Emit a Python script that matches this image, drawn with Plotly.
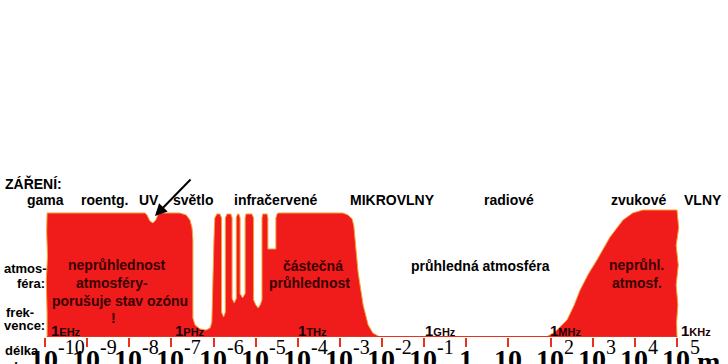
import plotly.graph_objects as go

# ---------------- data (x = log10 of wavelength in metres, y = relative atmospheric opacity) -------------
block_wl = [-9.95, -9.95, -9.97, -9.94, -9.96, -9.95, -7.63, -7.58, -7.51, -7.44, -7.37, -7.32, -7.25,
            -6.80, -6.65, -6.56, -6.51, -6.49, -6.49, -6.44, -6.32, -6.18, -6.08, -6.04,
            -5.99, -5.97, -5.92, -5.85, -5.81,
            -5.81, -5.76, -5.72,
            -5.72, -5.68, -5.59, -5.56,
            -5.56, -5.51, -5.46,
            -5.46, -5.43, -5.40, -5.37,
            -5.37, -5.31, -5.25,
            -5.25, -5.23, -5.09, -5.05,
            -5.05, -5.00, -4.94, -4.89, -4.85,
            -4.85, -4.83, -4.73, -4.71,
            -4.71, -4.52,
            -4.52, -4.49, -4.47, -2.93, -2.81, -2.71, -2.67, -2.57, -2.45, -2.33, -2.22, -2.05]
block_op = [0, 0.2, 0.45, 0.65, 0.85, 1.0, 1.0, 0.984, 0.935, 0.919, 0.944, 0.984, 1.0,
            1.0, 0.984, 0.944, 0.879, 0.782, 0.153, 0.097, 0.065, 0.056, 0.073, 0.121,
            0.782, 0.96, 0.992, 0.992, 0.96,
            0.20, 0.161, 0.20,
            0.96, 0.992, 0.992, 0.96,
            0.31, 0.274, 0.31,
            0.96, 0.992, 0.992, 0.96,
            0.35, 0.315, 0.35,
            0.96, 0.992, 0.992, 0.96,
            0.30, 0.26, 0.234, 0.26, 0.30,
            0.96, 0.992, 0.992, 0.96,
            0.71, 0.71,
            0.96, 0.992, 1.0, 1.0, 0.984, 0.952, 0.895, 0.524, 0.258, 0.097, 0.032, 0]

hump_wl = [1.90, 2.10, 2.39, 2.55, 2.70, 2.90, 3.10, 3.41, 3.72, 3.95, 4.19, 5.00,
           5.04, 4.98, 5.03, 4.98, 5.02, 4.99, 5.00]
hump_op = [0, 0.04, 0.137, 0.25, 0.379, 0.51, 0.621, 0.806, 0.944, 1.0, 1.024, 1.024,
           0.88, 0.74, 0.58, 0.42, 0.26, 0.12, 0]

tick_exps = list(range(-10, 6))
tick_base = ["10"] * 10 + ["1", "10"] + ["10"] * 4
tick_sup = ["-10", "-9", "-8", "-7", "-6", "-5", "-4", "-3", "-2", "-1", "", "", "2", "3", "4", "5"]

freq_units = ["EHz", "PHz", "THz", "GHz", "MHz", "KHz"]
freq_wl = [-9.81, -6.87, -3.95, -0.93, 2.03, 5.14]

band_names = ["gama", "roentg.", "UV", "světlo", "infračervené", "MIKROVLNY", "radiové", "zvukové", "VLNY"]
band_px = [45, 104, 149, 193, 275, 392, 509, 638, 703]

W, H, BASE = 728, 364, 337
RED = "#f01c1c"
EDGE = "#f5a030"
DARK = "#3a0000"


def px(x):
    return x / W


def py(y):
    return (BASE - y) / BASE


fig = go.Figure()
fig.add_trace(go.Scatter(x=block_wl, y=block_op, fill="toself", fillcolor=RED, mode="lines",
                         line=dict(color=EDGE, width=1), hoverinfo="skip", showlegend=False))
fig.add_trace(go.Scatter(x=hump_wl, y=hump_op, fill="toself", fillcolor=RED, mode="lines",
                         line=dict(color=EDGE, width=1), hoverinfo="skip", showlegend=False))
fig.add_trace(go.Scatter(x=freq_wl, y=[-0.032] * len(freq_wl), mode="markers", cliponaxis=False,
                         marker=dict(color="black", size=4), hoverinfo="skip", showlegend=False))

fig.add_shape(type="line", x0=-9.95, x1=5.0, y0=0, y1=0, xref="x", yref="y",
              line=dict(color="#e8321e", width=2))

ann = []


def label(text, x, y, size=14, color="black", xanchor="center", bold=True, family="Liberation Sans"):
    ann.append(dict(text=f"<b>{text}</b>" if bold else text, x=px(x), y=py(y), xref="paper", yref="paper",
                    xanchor=xanchor, yanchor="middle", showarrow=False,
                    font=dict(family=family, size=size, color=color)))


label("ZÁŘENÍ:", 3, 183, xanchor="left")
for name, x in zip(band_names, band_px):
    label(name, x, 200)

label("atmos-", 2, 268, size=13, xanchor="left")
label("féra:", 15, 283, size=13, xanchor="left")
label("frek-", 4, 312, size=13, xanchor="left")
label("vence:", 2, 325, size=13, xanchor="left")
label("délka", 3, 350, size=13, xanchor="left")
label("vlny:", 5, 366, size=13, xanchor="left")

label("neprůhlednost", 117, 265, color=DARK)
label("atmosféry-", 112, 283, color=DARK)
label("porušuje stav ozónu", 120, 301, color=DARK)
label("!", 113, 318, color=DARK)
label("částečná", 313, 266, color=DARK)
label("průhlednost", 309, 283, color=DARK)
label("průhledná atmosféra", 480, 266)
label("neprůhl.", 636, 265, color=DARK)
label("atmosf.", 637, 283, color=DARK)

for unit, x in zip(freq_units, freq_wl):
    ann.append(dict(text=f"<b>1<span style='font-size:11px'>{unit}</span></b>", x=x, y=py(330),
                    xref="x", yref="paper", xanchor="left", yanchor="middle", xshift=-4, showarrow=False,
                    font=dict(family="Liberation Sans", size=15, color="#1a0000")))

for e, b, s in zip(tick_exps, tick_base, tick_sup):
    ann.append(dict(text=f"<b>{b}</b>", x=e, y=py(342), xref="x", yref="paper", xanchor="center",
                    yanchor="top", xshift=-1 if s else 0, showarrow=False,
                    font=dict(family="Liberation Serif", size=28, color="black")))
    if s:
        ann.append(dict(text=s, x=e, y=py(334), xref="x", yref="paper", xanchor="left", yanchor="top",
                        xshift=11, showarrow=False,
                        font=dict(family="Liberation Serif", size=20, color="black")))
ann.append(dict(text="<b>m</b>", x=5, y=py(344), xref="x", yref="paper", xanchor="left", yanchor="top",
                xshift=18, showarrow=False, font=dict(family="Liberation Serif", size=28, color="black")))

# arrow pointing to the ozone notch
ann.append(dict(text="", x=px(155), y=py(216), xref="paper", yref="paper", showarrow=True,
                ax=37, ay=-38, arrowhead=2, arrowsize=1.2, arrowwidth=2, arrowcolor="black"))

fig.update_layout(
    width=W, height=H, margin=dict(l=0, r=0, t=0, b=H - BASE),
    paper_bgcolor="white", plot_bgcolor="white",
    xaxis=dict(range=[-11.068, 6.21], tickvals=tick_exps, showticklabels=False, ticks="outside",
               ticklen=9, tickwidth=2, tickcolor="#e8321e", showgrid=False, zeroline=False, showline=False,
               fixedrange=True),
    yaxis=dict(range=[0, BASE / 124], visible=False, fixedrange=True),
    annotations=ann,
)

fig.write_html("out.html", config={"displayModeBar": False},
               post_script="document.body.style.margin='0px';document.body.style.overflow='hidden';")
